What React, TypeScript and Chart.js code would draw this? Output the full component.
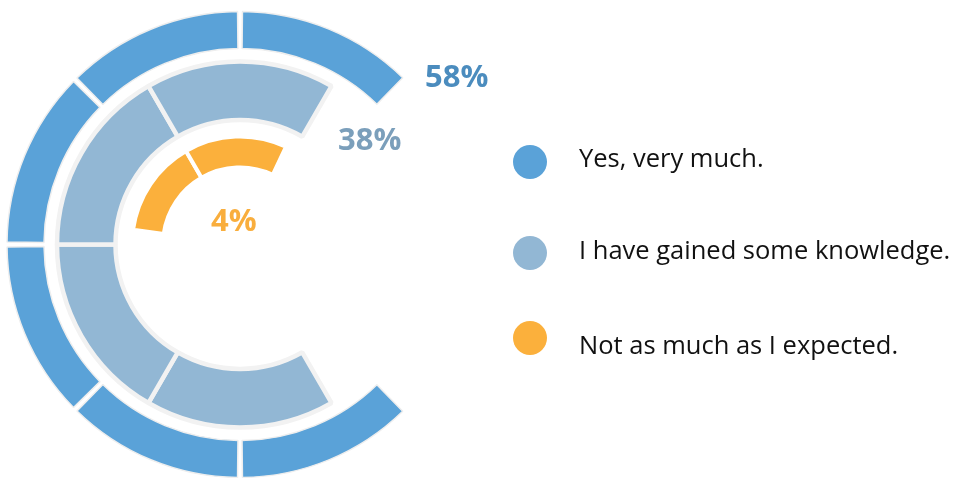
import React, { useEffect, useRef } from "react";
import { Chart, registerables } from "chart.js";

Chart.register(...registerables);

// ---- data ----
const categories = ["Yes, very much.", "I have gained some knowledge.", "Not as much as I expected."];
const percentages = [58, 38, 4];
const percentLabels = percentages.map((p) => `${p}%`);
// start angle (degrees clockwise from top) of each ring
const ringStarts = [135.7, 150, 277.8];
// angular spans (degrees) of the segments of each ring, outer to inner
const outerSegments = [44.3, 45, 45, 45, 45, 44.3];
const middleSegments = [60, 60, 60, 60];
const innerSegments = [52.2, 55.2];

const colors = ["#5aa2d8", "#92b7d4", "#fbb03c"];
const labelColors = ["#4b8cbe", "#7b9fbb", "#f9ae3d"];
const TRANSPARENT = "rgba(0,0,0,0)";

function ringData(segs: number[], gap: number) {
  const data: number[] = [];
  const kinds: boolean[] = [];
  segs.forEach((s, i) => {
    const cut = (i > 0 ? gap / 2 : 0) + (i < segs.length - 1 ? gap / 2 : 0);
    data.push(s - cut);
    kinds.push(true);
    if (i < segs.length - 1 && gap > 0) {
      data.push(gap);
      kinds.push(false);
    }
  });
  const total = data.reduce((a, b) => a + b, 0);
  data.push(360 - total);
  kinds.push(false);
  return { data, kinds };
}

function ringDataset(segs: number[], gap: number, start: number, color: string, border: string, bw: number, weight: number) {
  const { data, kinds } = ringData(segs, gap);
  return {
    data,
    rotation: start,
    weight,
    backgroundColor: kinds.map((k) => (k ? color : TRANSPARENT)),
    borderColor: kinds.map((k) => (k ? border : TRANSPARENT)),
    borderWidth: kinds.map((k) => (k ? bw : 0)),
    hoverBorderWidth: kinds.map((k) => (k ? bw : 0)),
  };
}

function spacer(weight: number) {
  return {
    data: [360],
    weight,
    backgroundColor: [TRANSPARENT],
    borderColor: [TRANSPARENT],
    borderWidth: [0],
    hoverBorderWidth: [0],
  };
}

const overlayPlugin = {
  id: "overlay",
  afterDraw(chart: any) {
    const ctx = chart.ctx as CanvasRenderingContext2D;
    ctx.save();
    // percentage labels
    const labelPos = [
      [425, 87],
      [338, 150],
      [211, 231],
    ];
    ctx.font = "bold 31px 'Open Sans'";
    ctx.textBaseline = "alphabetic";
    ctx.textAlign = "left";
    percentLabels.forEach((t, i) => {
      ctx.fillStyle = labelColors[i];
      ctx.fillText(t, labelPos[i][0], labelPos[i][1]);
    });
    // legend
    const legendY = [162, 253, 338];
    const textY = [167, 258.5, 353.5];
    ctx.font = "25.5px 'Open Sans'";
    categories.forEach((c, i) => {
      ctx.fillStyle = colors[i];
      ctx.beginPath();
      ctx.arc(530, legendY[i], 17, 0, Math.PI * 2);
      ctx.fill();
      ctx.fillStyle = "#111111";
      ctx.fillText(c, 579, textY[i]);
    });
    ctx.restore();
  },
};

export default function App() {
  const ref = useRef<HTMLCanvasElement | null>(null);
  useEffect(() => {
    if (!ref.current) return;
    const chart = new Chart(ref.current, {
      type: "doughnut",
      data: {
        labels: [],
        datasets: [
          ringDataset(outerSegments, 1.2, ringStarts[0], colors[0], "#eeeeee", 1.5, 37),
          spacer(13),
          ringDataset(middleSegments, 0, ringStarts[1], colors[1], "#f2f2f2", 4.5, 58.5),
          spacer(16.5),
          ringDataset(innerSegments, 0, ringStarts[2], colors[2], "#ffffff", 4, 31),
        ] as any,
      },
      options: {
        responsive: false,
        animation: false,
        events: [],
        radius: 233,
        cutout: `${(77 / 233) * 100}%`,
        layout: { padding: { left: 5, right: 480, top: 11, bottom: 0 } },
        plugins: { legend: { display: false }, tooltip: { enabled: false } },
      } as any,
      plugins: [overlayPlugin],
    });
    return () => chart.destroy();
  }, []);
  return (
    <canvas
      ref={ref}
      width={955}
      height={478}
      style={{ position: "fixed", left: 0, top: 0, width: 955, height: 478, display: "block" }}
    />
  );
}
